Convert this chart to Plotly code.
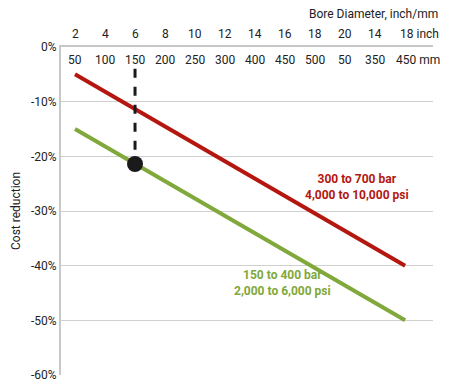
import plotly.graph_objects as go

inch_labels = ["2", "4", "6", "8", "10", "12", "14", "16", "18", "20", "14", "18 inch"]
mm_labels = ["50", "100", "150", "200", "250", "300", "400", "450", "500", "50", "350", "450 mm"]

line_x = [0, 11]
high_pressure = [-5, -40]   # 300 to 700 bar
low_pressure = [-15, -50]   # 150 to 400 bar

marker_x = [2]
marker_y = [-21.4]
dash_top = -4

RED = "#b3170f"
GREEN = "#80a83a"
FONT = "Roboto"

fig = go.Figure()

fig.add_trace(go.Scatter(x=line_x, y=high_pressure, mode="lines",
                         line=dict(color=RED, width=4), showlegend=False, hoverinfo="skip"))
fig.add_trace(go.Scatter(x=line_x, y=low_pressure, mode="lines",
                         line=dict(color=GREEN, width=4), showlegend=False, hoverinfo="skip"))
fig.add_trace(go.Scatter(x=[marker_x[0], marker_x[0]], y=[dash_top, marker_y[0]], mode="lines",
                         line=dict(color="#1a1a1a", width=3, dash="dash"), showlegend=False, hoverinfo="skip"))
fig.add_trace(go.Scatter(x=marker_x, y=marker_y, mode="markers",
                         marker=dict(color="#1a1a1a", size=16), showlegend=False, hoverinfo="skip"))

annotations = []
n = len(inch_labels)
for i, (a, b) in enumerate(zip(inch_labels, mm_labels)):
    last = i == n - 1
    annotations.append(dict(x=i, y=1, xref="x", yref="paper", yshift=13, text=a,
                            showarrow=False, xanchor="left" if last else "center",
                            xshift=-7 if last else 0, yanchor="middle",
                            font=dict(family=FONT, size=12, color="#222")))
    annotations.append(dict(x=i, y=1, xref="x", yref="paper", yshift=-13, text=b,
                            showarrow=False, xanchor="left" if last else "center",
                            xshift=-11 if last else 0, yanchor="middle",
                            font=dict(family=FONT, size=12, color="#222")))

annotations.append(dict(x=1.02, y=1, xref="paper", yref="paper", yshift=33, text="Bore Diameter, inch/mm",
                        showarrow=False, xanchor="right", yanchor="middle",
                        font=dict(family=FONT, size=12, color="#222")))
annotations.append(dict(x=0, y=0.5, xref="paper", yref="paper", xshift=-45, text="Cost reduction",
                        showarrow=False, textangle=-90, xanchor="center", yanchor="middle",
                        font=dict(family=FONT, size=12, color="#222")))

annotations.append(dict(x=9.4, y=-25.7, xref="x", yref="y",
                        text="<b>300 to 700 bar<br>4,000 to 10,000 psi</b>", showarrow=False,
                        font=dict(family=FONT, size=12, color=RED), align="center"))
annotations.append(dict(x=6.93, y=-43.1, xref="x", yref="y",
                        text="<b>150 to 400 bar<br>2,000 to 6,000 psi</b>", showarrow=False,
                        font=dict(family=FONT, size=12, color=GREEN), align="center"))

# page body has an 8px default margin, so the figure is sized to fit the 450x385 window
fig.update_layout(
    width=442, height=377,
    margin=dict(l=53, r=17, t=39, b=10, autoexpand=False),
    plot_bgcolor="white", paper_bgcolor="white",
    font=dict(family=FONT, size=12, color="#222"),
    annotations=annotations,
    xaxis=dict(range=[-0.467, 11.93], showticklabels=False, showgrid=False, zeroline=False,
               side="top", showline=True, linecolor="#c8c8c8", linewidth=2, ticks="",
               automargin=False),
    yaxis=dict(range=[-60, 0], tickvals=[0, -10, -20, -30, -40, -50, -60],
               ticktext=["0%", "-10%", "-20%", "-30%", "-40%", "-50%", "-60%"],
               showgrid=True, gridcolor="#d0d0d0", gridwidth=1, zeroline=False,
               showline=True, linecolor="#c8c8c8", linewidth=2, ticks="",
               automargin=False, tickfont=dict(size=12)),
)

fig.write_html("out.html")
